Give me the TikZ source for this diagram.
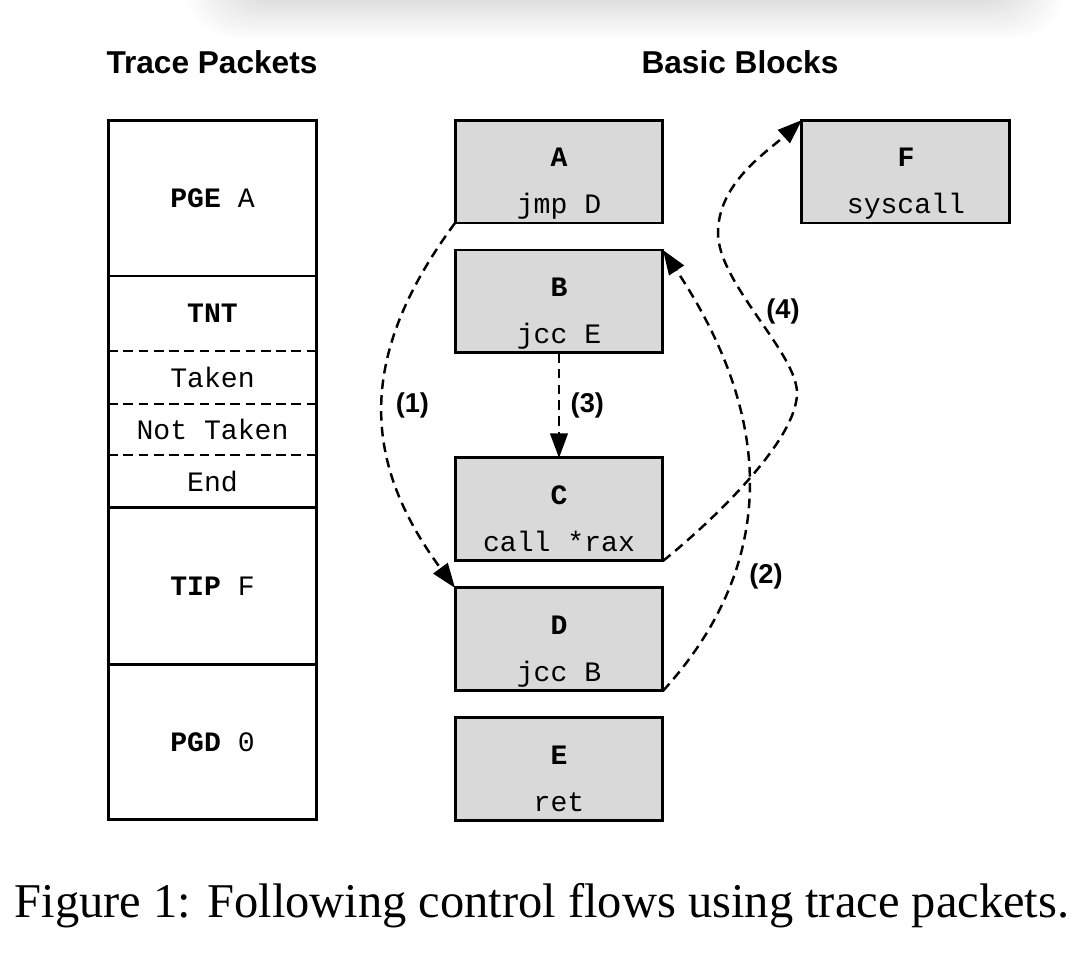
\documentclass[tikz,border=0pt]{standalone}
\usepackage{fontspec}
\setmainfont{Liberation Serif}
\setsansfont{Liberation Sans}
\setmonofont{Liberation Mono}
\usetikzlibrary{arrows.meta, positioning}
% block label: name on top, instruction below
\newcommand{\bbtext}[2]{\rule{0pt}{26.5pt}\textbf{#1}\\[2.7mm]#2\rule[-5pt]{0pt}{5pt}}

\begin{document}
\begin{tikzpicture}[x=0.02cm, y=-0.02cm, node distance=0mm,
  cell/.style={draw, line width=1.7pt, fill=white, outer sep=0pt, inner sep=0pt,
               minimum width=4.18cm, font=\fontsize{16}{19}\selectfont\ttfamily},
  sub/.style={cell, draw=none, fill=none},
  blk/.style={draw, line width=1.7pt, fill=gray!30, align=center, outer sep=0pt,
              inner ysep=0pt, minimum width=4.16cm, minimum height=2.06cm,
              font=\fontsize{16}{19}\selectfont\ttfamily},
  hd/.style={font=\fontsize{18}{22}\selectfont\sffamily\bfseries},
  lb/.style={font=\fontsize{15.5}{18}\selectfont\sffamily\bfseries, inner sep=2pt},
  sep/.style={line width=1.3pt, dash pattern=on 5.5pt off 3.2pt},
  ad/.style={-{Triangle[length=14pt, width=10pt]}, line width=1.4pt,
             dash pattern=on 5.5pt off 3.5pt}]
  \useasboundingbox (0,0) rectangle (1092,958);

  % soft shadow of the box above
  \begin{scope}
    \clip (0,0) rectangle (1092,958);
    \foreach \i in {0,...,15}
      \fill[black, opacity=0.007, rounded corners=10mm]
        (230-3*\i,-80) rectangle (1020+3*\i,2+2.4*\i);
  \end{scope}

  \node[hd] (tp) at (212,62) {Trace Packets};
  \node[hd] (bb) at (740,62) {Basic Blocks};

  % trace packets
  \node[cell, minimum height=3.12cm] (pge) at (212.5,198) {\textbf{PGE} A};
  \node[sub, minimum height=1.5cm, below=of pge] (tnt) {\textbf{TNT}};
  \node[sub, minimum height=1.06cm, below=of tnt] (tkn) {Taken};
  \node[sub, minimum height=1.02cm, below=of tkn] (ntkn) {Not Taken};
  \node[sub, minimum height=1.06cm, below=of ntkn] (end) {End};
  \node[cell, minimum height=3.14cm, below=of end] (tip) {\textbf{TIP} F};
  \node[cell, minimum height=3.1cm, below=of tip] (pgd) {\textbf{PGD} 0};
  \draw[line width=1.7pt] (tnt.north west) rectangle (end.south east);
  \draw[sep] (tnt.south west) -- (tnt.south east);
  \draw[sep] (tkn.south west) -- (tkn.south east);
  \draw[sep] (ntkn.south west) -- (ntkn.south east);

  % basic blocks
  \node[blk] (a) at (559,171.5) {\bbtext{A}{jmp D}};
  \node[blk, below=0.54cm of a] (b) {\bbtext{B}{jcc E}};
  \node[blk, below=2.1cm of b] (c) {\bbtext{C}{call *rax}};
  \node[blk, below=0.54cm of c] (d) {\bbtext{D}{jcc B}};
  \node[blk, below=0.54cm of d] (e) {\bbtext{E}{ret}};
  \node[blk, right=2.78cm of a] (f) {\bbtext{F}{syscall}};

  \draw[ad] (a.south west) .. controls +(-96,130) and +(-96,-130) ..
    node[lb, pos=0.5, right=1.6mm] {(1)} (d.north west);
  \draw[ad] (d.south east) .. controls +(110,-121) and +(117,176) .. (b.north east);
  \draw[ad] (b) -- node[lb, midway, right=1.4mm] {(3)} (c);
  \draw[ad] (c.south east) .. controls +(40,-32) and +(0,50) .. (797,393)
    .. controls +(0,-40) and +(0,50) .. (718,233)
    .. controls +(0,-50) and +(-35,32) .. (f.north west);
  \node[lb] (l2) at (766,576) {(2)};
  \node[lb] (l4) at (783,311) {(4)};

  \node[font=\fontsize{27.6}{32}\selectfont] (cap) at (542,906)
    {Figure 1: Following control flows using trace packets.};
\end{tikzpicture}
\end{document}
